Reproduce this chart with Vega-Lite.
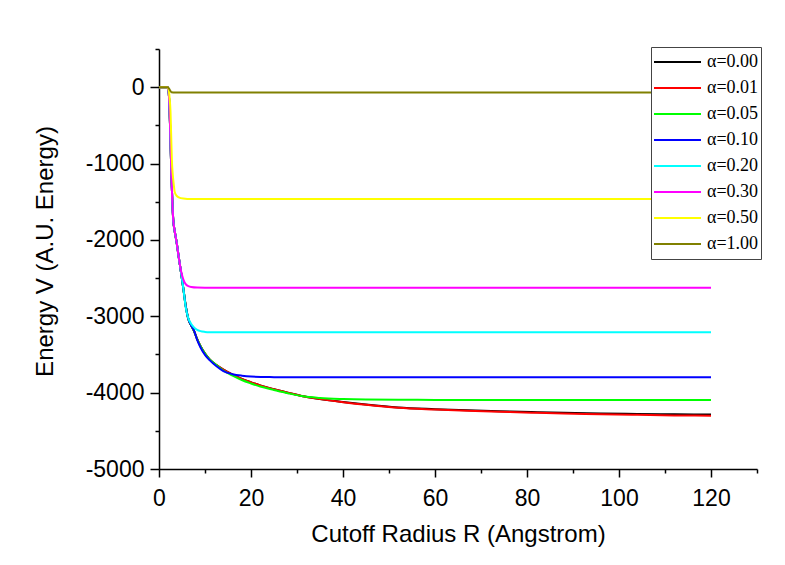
{
  "$schema": "https://vega.github.io/schema/vega-lite/v6.json",
  "width": 598,
  "height": 420,
  "autosize": {"type": "none"},
  "padding": {"left": 159, "top": 49, "right": 28, "bottom": 96},
  "background": "white",
  "config": {"view": {"stroke": null}, "font": "Liberation Sans"},
  "data": {"values": [
    {"alpha":"α=0.00","R":0,"V":0},{"alpha":"α=0.00","R":1,"V":0},{"alpha":"α=0.00","R":1.9,"V":0},{"alpha":"α=0.00","R":2.1,"V":-60},{"alpha":"α=0.00","R":2.3,"V":-300},{"alpha":"α=0.00","R":2.5,"V":-700},{"alpha":"α=0.00","R":2.7,"V":-1150},{"alpha":"α=0.00","R":2.9,"V":-1500},{"alpha":"α=0.00","R":3.1,"V":-1740},{"alpha":"α=0.00","R":3.4,"V":-1880},{"alpha":"α=0.00","R":3.8,"V":-2020},{"alpha":"α=0.00","R":4.3,"V":-2230},{"alpha":"α=0.00","R":4.8,"V":-2430},{"alpha":"α=0.00","R":5.3,"V":-2640},{"alpha":"α=0.00","R":5.8,"V":-2860},{"alpha":"α=0.00","R":6.4,"V":-3040},{"alpha":"α=0.00","R":7,"V":-3120},{"alpha":"α=0.00","R":7.6,"V":-3190},{"alpha":"α=0.00","R":8.3,"V":-3300},{"alpha":"α=0.00","R":9,"V":-3390},{"alpha":"α=0.00","R":10,"V":-3490},{"alpha":"α=0.00","R":11,"V":-3565},{"alpha":"α=0.00","R":12.5,"V":-3640},{"alpha":"α=0.00","R":14,"V":-3700},{"alpha":"α=0.00","R":16,"V":-3765},{"alpha":"α=0.00","R":18,"V":-3820},{"alpha":"α=0.00","R":20,"V":-3865},{"alpha":"α=0.00","R":22,"V":-3905},{"alpha":"α=0.00","R":25,"V":-3955},{"alpha":"α=0.00","R":28,"V":-4000},{"alpha":"α=0.00","R":31,"V":-4045},{"alpha":"α=0.00","R":35,"V":-4085},{"alpha":"α=0.00","R":40,"V":-4122},{"alpha":"α=0.00","R":45,"V":-4156},{"alpha":"α=0.00","R":52,"V":-4195},{"alpha":"α=0.00","R":60,"V":-4217},{"alpha":"α=0.00","R":67,"V":-4232},{"alpha":"α=0.00","R":74,"V":-4244},{"alpha":"α=0.00","R":81,"V":-4255},{"alpha":"α=0.00","R":88,"V":-4264},{"alpha":"α=0.00","R":96,"V":-4272},{"alpha":"α=0.00","R":104,"V":-4279},{"alpha":"α=0.00","R":112,"V":-4284},{"alpha":"α=0.00","R":120,"V":-4287},

    {"alpha":"α=0.01","R":0,"V":0},{"alpha":"α=0.01","R":1,"V":0},{"alpha":"α=0.01","R":1.9,"V":0},{"alpha":"α=0.01","R":2.1,"V":-60},{"alpha":"α=0.01","R":2.3,"V":-300},{"alpha":"α=0.01","R":2.5,"V":-700},{"alpha":"α=0.01","R":2.7,"V":-1150},{"alpha":"α=0.01","R":2.9,"V":-1500},{"alpha":"α=0.01","R":3.1,"V":-1740},{"alpha":"α=0.01","R":3.4,"V":-1880},{"alpha":"α=0.01","R":3.8,"V":-2020},{"alpha":"α=0.01","R":4.3,"V":-2230},{"alpha":"α=0.01","R":4.8,"V":-2430},{"alpha":"α=0.01","R":5.3,"V":-2640},{"alpha":"α=0.01","R":5.8,"V":-2860},{"alpha":"α=0.01","R":6.4,"V":-3040},{"alpha":"α=0.01","R":7,"V":-3120},{"alpha":"α=0.01","R":7.6,"V":-3190},{"alpha":"α=0.01","R":8.3,"V":-3300},{"alpha":"α=0.01","R":9,"V":-3390},{"alpha":"α=0.01","R":10,"V":-3490},{"alpha":"α=0.01","R":11,"V":-3565},{"alpha":"α=0.01","R":12.5,"V":-3640},{"alpha":"α=0.01","R":14,"V":-3700},{"alpha":"α=0.01","R":16,"V":-3765},{"alpha":"α=0.01","R":18,"V":-3820},{"alpha":"α=0.01","R":20,"V":-3865},{"alpha":"α=0.01","R":22,"V":-3905},{"alpha":"α=0.01","R":25,"V":-3955},{"alpha":"α=0.01","R":28,"V":-4000},{"alpha":"α=0.01","R":31,"V":-4045},{"alpha":"α=0.01","R":35,"V":-4085},{"alpha":"α=0.01","R":40,"V":-4125},{"alpha":"α=0.01","R":45,"V":-4160},{"alpha":"α=0.01","R":52,"V":-4199},{"alpha":"α=0.01","R":60,"V":-4222},{"alpha":"α=0.01","R":67,"V":-4238},{"alpha":"α=0.01","R":74,"V":-4251},{"alpha":"α=0.01","R":81,"V":-4263},{"alpha":"α=0.01","R":88,"V":-4273},{"alpha":"α=0.01","R":96,"V":-4282},{"alpha":"α=0.01","R":104,"V":-4291},{"alpha":"α=0.01","R":112,"V":-4298},{"alpha":"α=0.01","R":120,"V":-4303},

    {"alpha":"α=0.05","R":0,"V":0},{"alpha":"α=0.05","R":1,"V":0},{"alpha":"α=0.05","R":1.9,"V":0},{"alpha":"α=0.05","R":2.1,"V":-60},{"alpha":"α=0.05","R":2.3,"V":-300},{"alpha":"α=0.05","R":2.5,"V":-700},{"alpha":"α=0.05","R":2.7,"V":-1150},{"alpha":"α=0.05","R":2.9,"V":-1500},{"alpha":"α=0.05","R":3.1,"V":-1740},{"alpha":"α=0.05","R":3.4,"V":-1880},{"alpha":"α=0.05","R":3.8,"V":-2020},{"alpha":"α=0.05","R":4.3,"V":-2230},{"alpha":"α=0.05","R":4.8,"V":-2430},{"alpha":"α=0.05","R":5.3,"V":-2640},{"alpha":"α=0.05","R":5.8,"V":-2860},{"alpha":"α=0.05","R":6.4,"V":-3040},{"alpha":"α=0.05","R":7,"V":-3120},{"alpha":"α=0.05","R":7.6,"V":-3190},{"alpha":"α=0.05","R":8.3,"V":-3300},{"alpha":"α=0.05","R":9,"V":-3390},{"alpha":"α=0.05","R":10,"V":-3490},{"alpha":"α=0.05","R":11,"V":-3565},{"alpha":"α=0.05","R":12.5,"V":-3640},{"alpha":"α=0.05","R":14,"V":-3710},{"alpha":"α=0.05","R":16,"V":-3778},{"alpha":"α=0.05","R":18,"V":-3835},{"alpha":"α=0.05","R":20,"V":-3880},{"alpha":"α=0.05","R":22,"V":-3920},{"alpha":"α=0.05","R":25,"V":-3965},{"alpha":"α=0.05","R":28,"V":-4008},{"alpha":"α=0.05","R":31,"V":-4045},{"alpha":"α=0.05","R":35,"V":-4070},{"alpha":"α=0.05","R":40,"V":-4084},{"alpha":"α=0.05","R":45,"V":-4091},{"alpha":"α=0.05","R":52,"V":-4094},{"alpha":"α=0.05","R":60,"V":-4095},{"alpha":"α=0.05","R":120,"V":-4095},

    {"alpha":"α=0.10","R":0,"V":0},{"alpha":"α=0.10","R":1,"V":0},{"alpha":"α=0.10","R":1.9,"V":0},{"alpha":"α=0.10","R":2.1,"V":-60},{"alpha":"α=0.10","R":2.3,"V":-300},{"alpha":"α=0.10","R":2.5,"V":-700},{"alpha":"α=0.10","R":2.7,"V":-1150},{"alpha":"α=0.10","R":2.9,"V":-1500},{"alpha":"α=0.10","R":3.1,"V":-1740},{"alpha":"α=0.10","R":3.4,"V":-1880},{"alpha":"α=0.10","R":3.8,"V":-2020},{"alpha":"α=0.10","R":4.3,"V":-2230},{"alpha":"α=0.10","R":4.8,"V":-2430},{"alpha":"α=0.10","R":5.3,"V":-2640},{"alpha":"α=0.10","R":5.8,"V":-2860},{"alpha":"α=0.10","R":6.4,"V":-3040},{"alpha":"α=0.10","R":7,"V":-3120},{"alpha":"α=0.10","R":7.6,"V":-3185},{"alpha":"α=0.10","R":8.3,"V":-3310},{"alpha":"α=0.10","R":9,"V":-3405},{"alpha":"α=0.10","R":10,"V":-3505},{"alpha":"α=0.10","R":11,"V":-3575},{"alpha":"α=0.10","R":12.5,"V":-3655},{"alpha":"α=0.10","R":14,"V":-3718},{"alpha":"α=0.10","R":16,"V":-3758},{"alpha":"α=0.10","R":18,"V":-3778},{"alpha":"α=0.10","R":20,"V":-3789},{"alpha":"α=0.10","R":25,"V":-3797},{"alpha":"α=0.10","R":30,"V":-3800},{"alpha":"α=0.10","R":120,"V":-3800},

    {"alpha":"α=0.20","R":0,"V":0},{"alpha":"α=0.20","R":1,"V":0},{"alpha":"α=0.20","R":1.9,"V":0},{"alpha":"α=0.20","R":2.1,"V":-60},{"alpha":"α=0.20","R":2.3,"V":-300},{"alpha":"α=0.20","R":2.5,"V":-700},{"alpha":"α=0.20","R":2.7,"V":-1150},{"alpha":"α=0.20","R":2.9,"V":-1500},{"alpha":"α=0.20","R":3.1,"V":-1740},{"alpha":"α=0.20","R":3.4,"V":-1880},{"alpha":"α=0.20","R":3.8,"V":-2020},{"alpha":"α=0.20","R":4.3,"V":-2230},{"alpha":"α=0.20","R":4.8,"V":-2430},{"alpha":"α=0.20","R":5.3,"V":-2640},{"alpha":"α=0.20","R":5.8,"V":-2880},{"alpha":"α=0.20","R":6.4,"V":-3030},{"alpha":"α=0.20","R":7,"V":-3100},{"alpha":"α=0.20","R":7.6,"V":-3145},{"alpha":"α=0.20","R":8.3,"V":-3178},{"alpha":"α=0.20","R":9,"V":-3195},{"alpha":"α=0.20","R":10,"V":-3205},{"alpha":"α=0.20","R":11,"V":-3209},{"alpha":"α=0.20","R":12.5,"V":-3210},{"alpha":"α=0.20","R":120,"V":-3210},

    {"alpha":"α=0.30","R":0,"V":0},{"alpha":"α=0.30","R":1,"V":0},{"alpha":"α=0.30","R":1.9,"V":0},{"alpha":"α=0.30","R":2.1,"V":-60},{"alpha":"α=0.30","R":2.3,"V":-300},{"alpha":"α=0.30","R":2.5,"V":-700},{"alpha":"α=0.30","R":2.7,"V":-1150},{"alpha":"α=0.30","R":2.9,"V":-1500},{"alpha":"α=0.30","R":3.1,"V":-1740},{"alpha":"α=0.30","R":3.4,"V":-1880},{"alpha":"α=0.30","R":3.8,"V":-2020},{"alpha":"α=0.30","R":4.3,"V":-2230},{"alpha":"α=0.30","R":4.8,"V":-2410},{"alpha":"α=0.30","R":5.3,"V":-2520},{"alpha":"α=0.30","R":5.8,"V":-2580},{"alpha":"α=0.30","R":6.4,"V":-2606},{"alpha":"α=0.30","R":7,"V":-2617},{"alpha":"α=0.30","R":8.3,"V":-2624},{"alpha":"α=0.30","R":10,"V":-2625},{"alpha":"α=0.30","R":120,"V":-2625},

    {"alpha":"α=0.50","R":0,"V":0},{"alpha":"α=0.50","R":1,"V":0},{"alpha":"α=0.50","R":1.9,"V":0},{"alpha":"α=0.50","R":2.1,"V":-30},{"alpha":"α=0.50","R":2.3,"V":-140},{"alpha":"α=0.50","R":2.5,"V":-320},{"alpha":"α=0.50","R":2.65,"V":-640},{"alpha":"α=0.50","R":2.8,"V":-957},{"alpha":"α=0.50","R":3,"V":-1150},{"alpha":"α=0.50","R":3.2,"V":-1270},{"alpha":"α=0.50","R":3.4,"V":-1370},{"alpha":"α=0.50","R":3.8,"V":-1420},{"alpha":"α=0.50","R":4.3,"V":-1442},{"alpha":"α=0.50","R":5.3,"V":-1458},{"alpha":"α=0.50","R":7,"V":-1465},{"alpha":"α=0.50","R":120,"V":-1465},

    {"alpha":"α=1.00","R":0,"V":0},{"alpha":"α=1.00","R":1,"V":0},{"alpha":"α=1.00","R":1.9,"V":0},{"alpha":"α=1.00","R":2.3,"V":-30},{"alpha":"α=1.00","R":2.7,"V":-65},{"alpha":"α=1.00","R":3.5,"V":-68},{"alpha":"α=1.00","R":120,"V":-68}
  ]},
  "mark": {"type": "line", "strokeWidth": 2, "clip": true, "interpolate": "monotone"},
  "encoding": {
    "x": {
      "field": "R", "type": "quantitative",
      "scale": {"domain": [0, 130], "nice": false, "zero": false},
      "axis": {
        "values": [0,10,20,30,40,50,60,70,80,90,100,110,120,130],
        "labelExpr": "datum.value % 20 === 0 ? toString(datum.value) : ''",
        "tickSize": {"condition": {"test": "datum.value % 20 === 0", "value": 8}, "value": 4},
        "grid": false, "labelOverlap": false, "labelFlush": false, "labelBound": false,
        "domainColor": "black", "domainWidth": 1.5, "tickColor": "black", "tickWidth": 1.5,
        "labelFont": "Liberation Sans", "labelFontSize": 23, "labelColor": "black", "labelPadding": 10,
        "title": "Cutoff Radius R (Angstrom)", "titleFont": "Liberation Sans", "titleFontSize": 24,
        "titleFontWeight": "normal", "titleColor": "black", "titlePadding": 12
      }
    },
    "y": {
      "field": "V", "type": "quantitative",
      "scale": {"domain": [-5000, 500], "nice": false, "zero": false},
      "axis": {
        "values": [-5000,-4500,-4000,-3500,-3000,-2500,-2000,-1500,-1000,-500,0,500],
        "labelExpr": "datum.value % 1000 === 0 ? toString(datum.value) : ''",
        "tickSize": {"condition": {"test": "datum.value % 1000 === 0", "value": 9}, "value": 4},
        "grid": false, "labelOverlap": false, "labelFlush": false, "labelBound": false,
        "domainColor": "black", "domainWidth": 1.5, "tickColor": "black", "tickWidth": 1.5,
        "labelFont": "Liberation Sans", "labelFontSize": 23, "labelColor": "black", "labelPadding": 6,
        "title": "Energy V (A.U. Energy)", "titleFont": "Liberation Sans", "titleFontSize": 24,
        "titleFontWeight": "normal", "titleColor": "black", "titlePadding": 28, "titleY": 202
      }
    },
    "color": {
      "field": "alpha", "type": "nominal",
      "scale": {
        "domain": ["α=0.00","α=0.01","α=0.05","α=0.10","α=0.20","α=0.30","α=0.50","α=1.00"],
        "range": ["#000000","#ff0000","#00ff00","#0000ff","#00ffff","#ff00ff","#ffff00","#808000"]
      },
      "legend": {
        "orient": "none", "legendX": 492, "legendY": -2, "title": null,
        "symbolType": "stroke", "symbolSize": 2209, "symbolStrokeWidth": 2,
        "labelFont": "Liberation Serif", "labelFontSize": 18, "labelColor": "black",
        "labelOffset": 5, "padding": 2, "clipHeight": 26, "rowPadding": -0.4,
        "strokeColor": "#444444", "fillColor": "white", "cornerRadius": 0
      }
    }
  }
}
